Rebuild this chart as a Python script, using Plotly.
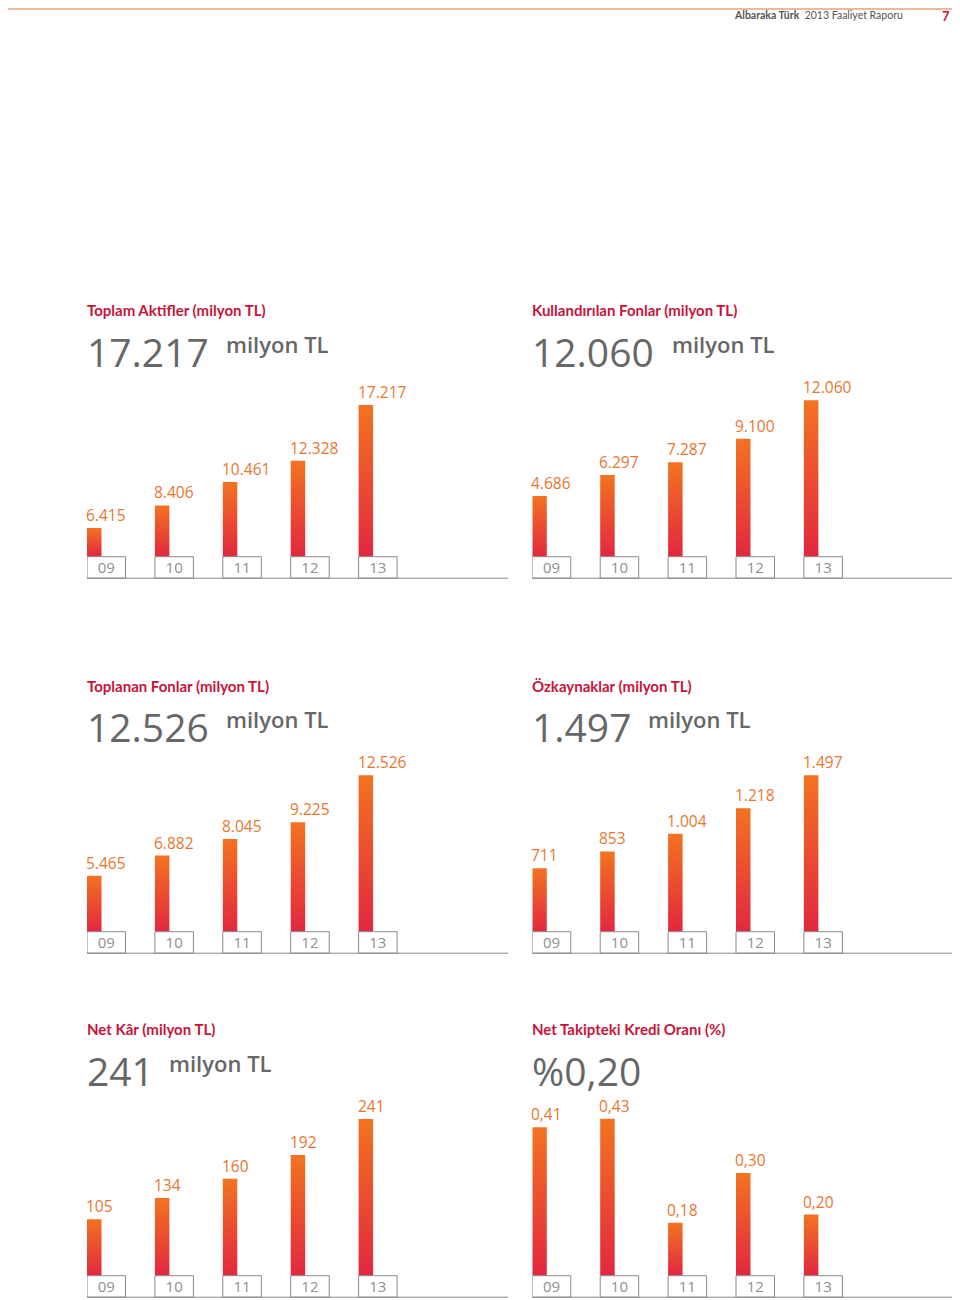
import plotly.graph_objects as go

# ---------------- data ----------------
years = ["09", "10", "11", "12", "13"]

titles = [
    "Toplam Aktifler (milyon TL)",
    "Kullandırılan Fonlar (milyon TL)",
    "Toplanan Fonlar (milyon TL)",
    "Özkaynaklar (milyon TL)",
    "Net Kâr (milyon TL)",
    "Net Takipteki Kredi Oranı (%)",
]
headline_values = ["17.217", "12.060", "12.526", "1.497", "241", "%0,20"]
headline_units = ["milyon TL", "milyon TL", "milyon TL", "milyon TL", "milyon TL", ""]

toplam_aktifler = [6415, 8406, 10461, 12328, 17217]
kullandirilan_fonlar = [4686, 6297, 7287, 9100, 12060]
toplanan_fonlar = [5465, 6882, 8045, 9225, 12526]
ozkaynaklar = [711, 853, 1004, 1218, 1497]
net_kar = [105, 134, 160, 192, 241]
takipteki_kredi_orani = [0.41, 0.43, 0.18, 0.30, 0.20]

series = [toplam_aktifler, kullandirilan_fonlar, toplanan_fonlar,
          ozkaynaklar, net_kar, takipteki_kredi_orani]


def fmt_int(v):
    return f"{v:,}".replace(",", ".")


def fmt_pct(v):
    return f"{v:.2f}".replace(".", ",")


formatters = [fmt_int, fmt_int, fmt_int, fmt_int, fmt_int, fmt_pct]

# ---------------- styling / layout ----------------
W, H = 960, 1300
OFF = 8  # page body margin compensation
RED = "#c8143a"
ORANGE_TXT = "#e8772e"
GRAY_BIG = "#676767"
GRAY_TICK = "#8f8f8f"
BOX_LINE = "#8a8a8a"
GRAD = [[0, "#e2273f"], [1, "#f37321"]]

# y axis ranges (axis styling: value at bar base, value at top of domain)
y_ranges = [(3900, 17950), (0, 12336), (1526, 12778), (175, 1527.5), (28.5, 245.4), (0.0529, 0.4375)]

col_x0 = [87.0, 532.3]          # pixel x of first bar
col_line_end = [508.0, 954.0]
row_base = [556.7, 931.7, 1275.7]   # pixel y of bar base
row_title = [310, 686, 1029]
row_big = [351, 726, 1070]
unit_x = [[224, 670], [224, 646], [167, 670]]

STEP = 67.9           # pixel spacing between bars
BAR_W = 14.5 / STEP   # data units
BOX_W = 38.5 / STEP
DOM_H = 160.0
BOX_H = 21.5


def px(x):
    return (x - OFF) / W


def py(y):
    return 1 - (y - OFF) / H


fig = go.Figure()
annotations = []
shapes = []
layout_axes = {}

for k in range(6):
    r, c = divmod(k, 2)
    idx = "" if k == 0 else str(k + 1)
    xa, ya = "x" + idx, "y" + idx
    vals = series[k]
    y0, y1 = y_ranges[k]
    base = row_base[r]
    x0 = col_x0[c]
    xrange_max = (col_line_end[c] - x0) / STEP

    layout_axes["xaxis" + idx] = dict(
        domain=[px(x0), px(col_line_end[c])], range=[0, xrange_max], anchor=ya,
        showgrid=False, zeroline=False, showline=False, ticks="",
        tickmode="array", tickvals=[i + BOX_W / 2 for i in range(len(years))],
        ticktext=years, tickfont=dict(family="Open Sans", size=15, color=GRAY_TICK),
        fixedrange=True,
    )
    layout_axes["yaxis" + idx] = dict(
        domain=[py(base), py(base - DOM_H)], range=[y0, y1], anchor=xa,
        showgrid=False, zeroline=False, showline=False, showticklabels=False, ticks="",
        fixedrange=True,
    )

    for i, v in enumerate(vals):
        fig.add_trace(go.Scatter(
            x=[i, i + BAR_W, i + BAR_W, i, i],
            y=[y0, y0, v, v, y0],
            mode="lines", fill="toself",
            line=dict(width=0, color="rgba(0,0,0,0)"),
            fillgradient=dict(type="vertical", colorscale=GRAD),
            hoverinfo="skip", showlegend=False, xaxis=xa, yaxis=ya,
        ))
        annotations.append(dict(
            x=i, y=v, xref=xa, yref=ya, xanchor="left", yanchor="bottom",
            xshift=-3, yshift=0, showarrow=False, text=formatters[k](v),
            font=dict(family="Open Sans", size=15.5, color=ORANGE_TXT),
        ))
        shapes.append(dict(
            type="rect", xref=xa, yref="paper", x0=i, x1=i + BOX_W,
            y0=py(base + BOX_H), y1=py(base),
            line=dict(color=BOX_LINE, width=1), fillcolor="rgba(0,0,0,0)",
        ))

    # baseline
    shapes.append(dict(type="line", xref="paper", yref="paper",
                       x0=px(x0), x1=px(col_line_end[c]),
                       y0=py(base + BOX_H), y1=py(base + BOX_H),
                       line=dict(color=BOX_LINE, width=1)))

    # titles
    annotations.append(dict(
        x=px(x0 - 2), y=py(row_title[r]), xref="paper", yref="paper",
        xanchor="left", yanchor="middle", showarrow=False, text=titles[k],
        font=dict(family="Lato", size=15, color=RED, weight=700),
    ))
    annotations.append(dict(
        x=px(x0 - 1), y=py(row_big[r]), xref="paper", yref="paper",
        xanchor="left", yanchor="middle", showarrow=False, text=headline_values[k],
        height=42, borderpad=0,
        font=dict(family="Open Sans", size=39, color=GRAY_BIG),
    ))
    if headline_units[k]:
        annotations.append(dict(
            x=px(unit_x[r][c]), y=py(row_big[r] - 7), xref="paper", yref="paper",
            xanchor="left", yanchor="middle", showarrow=False, text=headline_units[k],
            font=dict(family="Open Sans", size=22, color=GRAY_BIG, weight=600),
        ))

# header
shapes.append(dict(type="line", xref="paper", yref="paper", x0=0, x1=1,
                   y0=py(9), y1=py(9), line=dict(color="#e9a07c", width=1.5)))
annotations.append(dict(
    x=px(905), y=py(15), xref="paper", yref="paper", xanchor="right", yanchor="middle",
    showarrow=False, text="<b>Albaraka Türk</b>  2013 Faaliyet Raporu",
    font=dict(family="Lato", size=10.5, color="#555555"),
))
annotations.append(dict(
    x=px(946), y=py(16), xref="paper", yref="paper", xanchor="center", yanchor="middle",
    showarrow=False, text="<b>7</b>",
    font=dict(family="Lato", size=13, color=RED),
))

fig.update_layout(
    width=W, height=H, margin=dict(l=0, r=0, t=0, b=0),
    paper_bgcolor="white", plot_bgcolor="white", showlegend=False,
    annotations=annotations, shapes=shapes, **layout_axes,
)

fig.write_html("out.html")
